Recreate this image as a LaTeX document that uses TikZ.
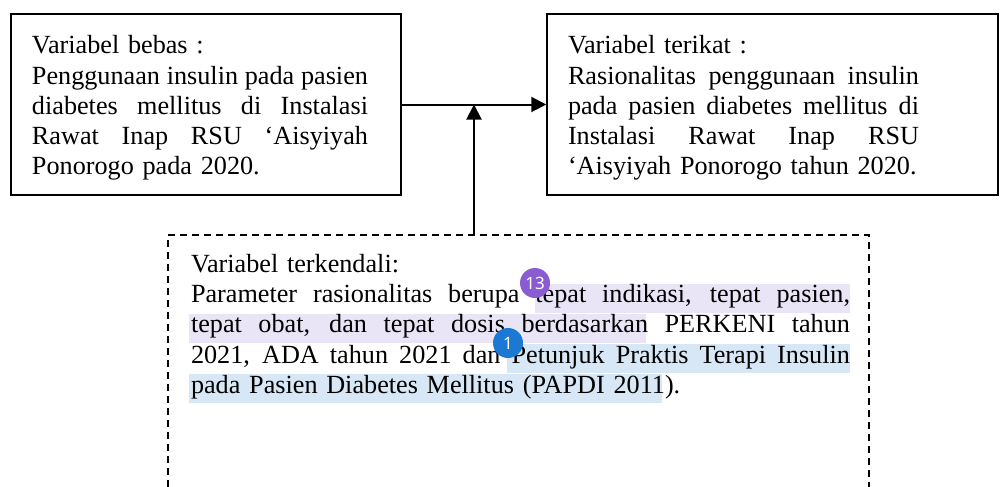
\documentclass[tikz,border=0pt]{standalone}
\usepackage{fontspec}
\setmainfont{Liberation Serif}
\newfontfamily\tandafont{Noto Sans}
\usetikzlibrary{arrows.meta}
\definecolor{ungumuda}{HTML}{E9E5F6}
\definecolor{birumuda}{HTML}{D8E7F5}
\definecolor{ungu}{HTML}{8A5CD2}
\definecolor{biru}{HTML}{1B79D3}
\newcommand{\penuh}[2]{\leavevmode\hbox to #1{\spaceskip=0.25em plus 1fil\relax #2}}

\begin{document}
\begin{tikzpicture}[x=0.5pt,y=-0.5pt,
kotak/.style={draw,rectangle,line width=0.75pt,inner sep=0pt},
teks/.style={align=left,inner sep=0pt,font=\fontsize{13.1}{15.1}\selectfont},
tanda/.style={circle,inner sep=0pt,minimum size=15pt,text=white,
font=\tandafont\fontsize{8.5}{10}\selectfont},
panah/.style={line width=1pt,-{Triangle[length=7.5pt,width=7.5pt]}}]
\useasboundingbox (0,0) rectangle (1001,487);

\node[kotak,minimum width=195pt,minimum height=90.5pt](bebas) at (206,104.5){};

\node[teks,text width=168pt](bebasteks) at (200,108){Variabel bebas :\\
\penuh{168pt}{Penggunaan insulin pada pasien}\\
\penuh{168pt}{diabetes mellitus di Instalasi}\\
\penuh{168pt}{Rawat Inap RSU ‘Aisyiyah}\\
Ponorogo pada 2020.};

\node[kotak,minimum width=225.5pt,minimum height=90.5pt](terikat) at (772.5,104.5){};

\node[teks,text width=175.5pt](terikatteks) at (743.5,108){Variabel terikat :\\
\penuh{175.5pt}{Rasionalitas penggunaan insulin}\\
\penuh{175.5pt}{pada pasien diabetes mellitus di}\\
\penuh{175.5pt}{Instalasi Rawat Inap RSU}\\
‘Aisyiyah Ponorogo tahun 2020.};

\node[kotak,dash pattern=on 3.5pt off 2.5pt,
minimum width=350.5pt,minimum height=142.5pt](kendali) at (518.5,377.5){};

\fill[ungumuda] (535,284) rectangle (850,313);
\fill[ungumuda] (189,314) rectangle (646,343);
\fill[birumuda] (507,344) rectangle (850,373);
\fill[birumuda] (189,374) rectangle (662,403);

\node[teks,text width=329.5pt](kendaliteks) at (520.5,326.5){Variabel terkendali:\\
\penuh{329.5pt}{Parameter rasionalitas berupa tepat indikasi, tepat pasien,}\\
\penuh{329.5pt}{tepat obat, dan tepat dosis berdasarkan PERKENI tahun}\\
\penuh{329.5pt}{2021, ADA tahun 2021 dan Petunjuk Praktis Terapi Insulin}\\
pada Pasien Diabetes Mellitus (PAPDI 2011).};

\node[tanda,fill=ungu](tanda13) at (535,283){13};
\node[tanda,fill=biru](tanda1) at (508,343){1};

\path (bebas.east) -- coordinate[midway] (temu) (terikat.west);
\draw [panah] (bebas) to (terikat);
\draw [panah] (kendali.north -| temu) to (temu);
\end{tikzpicture}
\end{document}
